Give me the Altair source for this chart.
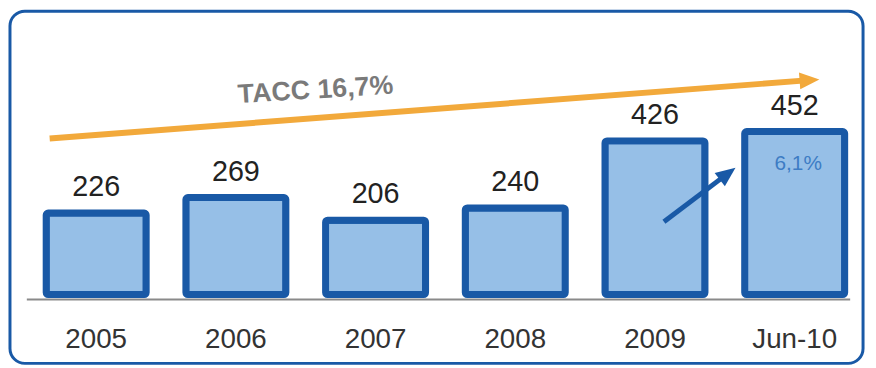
import altair as alt
import pandas as pd

# ---- data ----
categories = ["2005", "2006", "2007", "2008", "2009", "Jun-10"]
values = [226, 269, 206, 240, 426, 452]

# annotation positions in data units (x = category index, y = value units)
tacc_text = "TACC 16,7%"
tacc_pos = [1.57]
tacc_val = [566.0]
tacc_line_pos = [-0.333, 5.106]
tacc_line_val = [432.7, 594.5]
tacc_head_pos = [5.106]
tacc_head_val = [594.5]

growth_text = "6,1%"
growth_pos = [5.025]
growth_val = [362.0]
growth_line_pos = [4.064, 4.52]
growth_line_val = [201.9, 335.2]
growth_head_pos = [4.52]
growth_head_val = [335.2]

# ---- styling ----
FONT = "Liberation Sans"
DARK_BLUE = "#1959a6"
LIGHT_BLUE = "#96bfe7"
ORANGE = "#f2a93b"
X_RANGE = [18.5, 864.5]
Y_SCALE = alt.Scale(domain=[0, 790], range=[287.5, 0], nice=False, zero=True)
IDX_SCALE = alt.Scale(domain=[-0.5, 5.5], range=X_RANGE, nice=False, zero=False)
ARROW = "M-1,-0.85 L1,0 L-1,0.85 Z"

df = pd.DataFrame({"cat": categories, "value": values})
one = pd.DataFrame({"k": [0]})

xband = alt.X("cat:N", sort=categories, axis=None,
              scale=alt.Scale(range=X_RANGE, paddingInner=0.284, paddingOuter=0.142))
yq = alt.Y("value:Q", scale=Y_SCALE, axis=None)

border = alt.Chart(one).mark_rect(
    fillOpacity=0, stroke=DARK_BLUE, strokeWidth=3, cornerRadius=15
).encode(x=alt.value(2), x2=alt.value(863), y=alt.value(1.5), y2=alt.value(357))

baseline = alt.Chart(one).mark_rule(stroke="#8a8a8a", strokeWidth=2).encode(
    x=alt.value(19), x2=alt.value(850), y=alt.value(292.5))

bars = alt.Chart(df).mark_bar(
    fill=LIGHT_BLUE, stroke=DARK_BLUE, strokeWidth=7, cornerRadius=2
).encode(x=xband, y=yq)

vlabels = alt.Chart(df).mark_text(
    dy=-26, fontSize=29, font=FONT, color="#222222", baseline="middle"
).encode(x=xband, y=yq, text="value:Q")

clabels = alt.Chart(df).mark_text(
    fontSize=28, font=FONT, color="#333333", baseline="middle"
).encode(x=xband, y=alt.value(333), text="cat:N")

def line_layer(pos, val, color, width):
    d = pd.DataFrame({"pos": pos, "val": val})
    return alt.Chart(d).mark_line(color=color, strokeWidth=width, strokeCap="butt").encode(
        x=alt.X("pos:Q", scale=IDX_SCALE, axis=None),
        y=alt.Y("val:Q", scale=Y_SCALE, axis=None))

def head_layer(pos, val, color, size, angle):
    d = pd.DataFrame({"pos": pos, "val": val})
    return alt.Chart(d).mark_point(
        shape=ARROW, filled=True, fill=color, color=color, opacity=1,
        size=size, angle=angle, strokeWidth=0
    ).encode(x=alt.X("pos:Q", scale=IDX_SCALE, axis=None),
             y=alt.Y("val:Q", scale=Y_SCALE, axis=None))

def text_layer(pos, val, text, **kw):
    d = pd.DataFrame({"pos": pos, "val": val, "t": [text]})
    return alt.Chart(d).mark_text(font=FONT, baseline="middle", **kw).encode(
        x=alt.X("pos:Q", scale=IDX_SCALE, axis=None),
        y=alt.Y("val:Q", scale=Y_SCALE, axis=None), text="t:N")

tacc_line = line_layer(tacc_line_pos, tacc_line_val, ORANGE, 6)
tacc_head = head_layer(tacc_head_pos, tacc_head_val, ORANGE, 400, 355.6)
tacc_lab = text_layer(tacc_pos, tacc_val, tacc_text, fontSize=27, fontWeight="bold",
                      color="#7a7a7a", angle=356.5)

growth_line = line_layer(growth_line_pos, growth_line_val, DARK_BLUE, 5)
growth_head = head_layer(growth_head_pos, growth_head_val, DARK_BLUE, 400, 322.6)
growth_lab = text_layer(growth_pos, growth_val, growth_text, fontSize=21, color="#3d7cc4")

chart = alt.layer(
    border, baseline, bars, vlabels, clabels,
    tacc_line, tacc_head, tacc_lab,
    growth_line, growth_head, growth_lab
).resolve_scale(x="independent").properties(
    width=868, height=360, autosize=alt.AutoSizeParams(type="none"),
    padding=0, background="white"
).configure_view(stroke=None)

chart.save("out.html", embed_options={"renderer": "svg", "actions": False})
